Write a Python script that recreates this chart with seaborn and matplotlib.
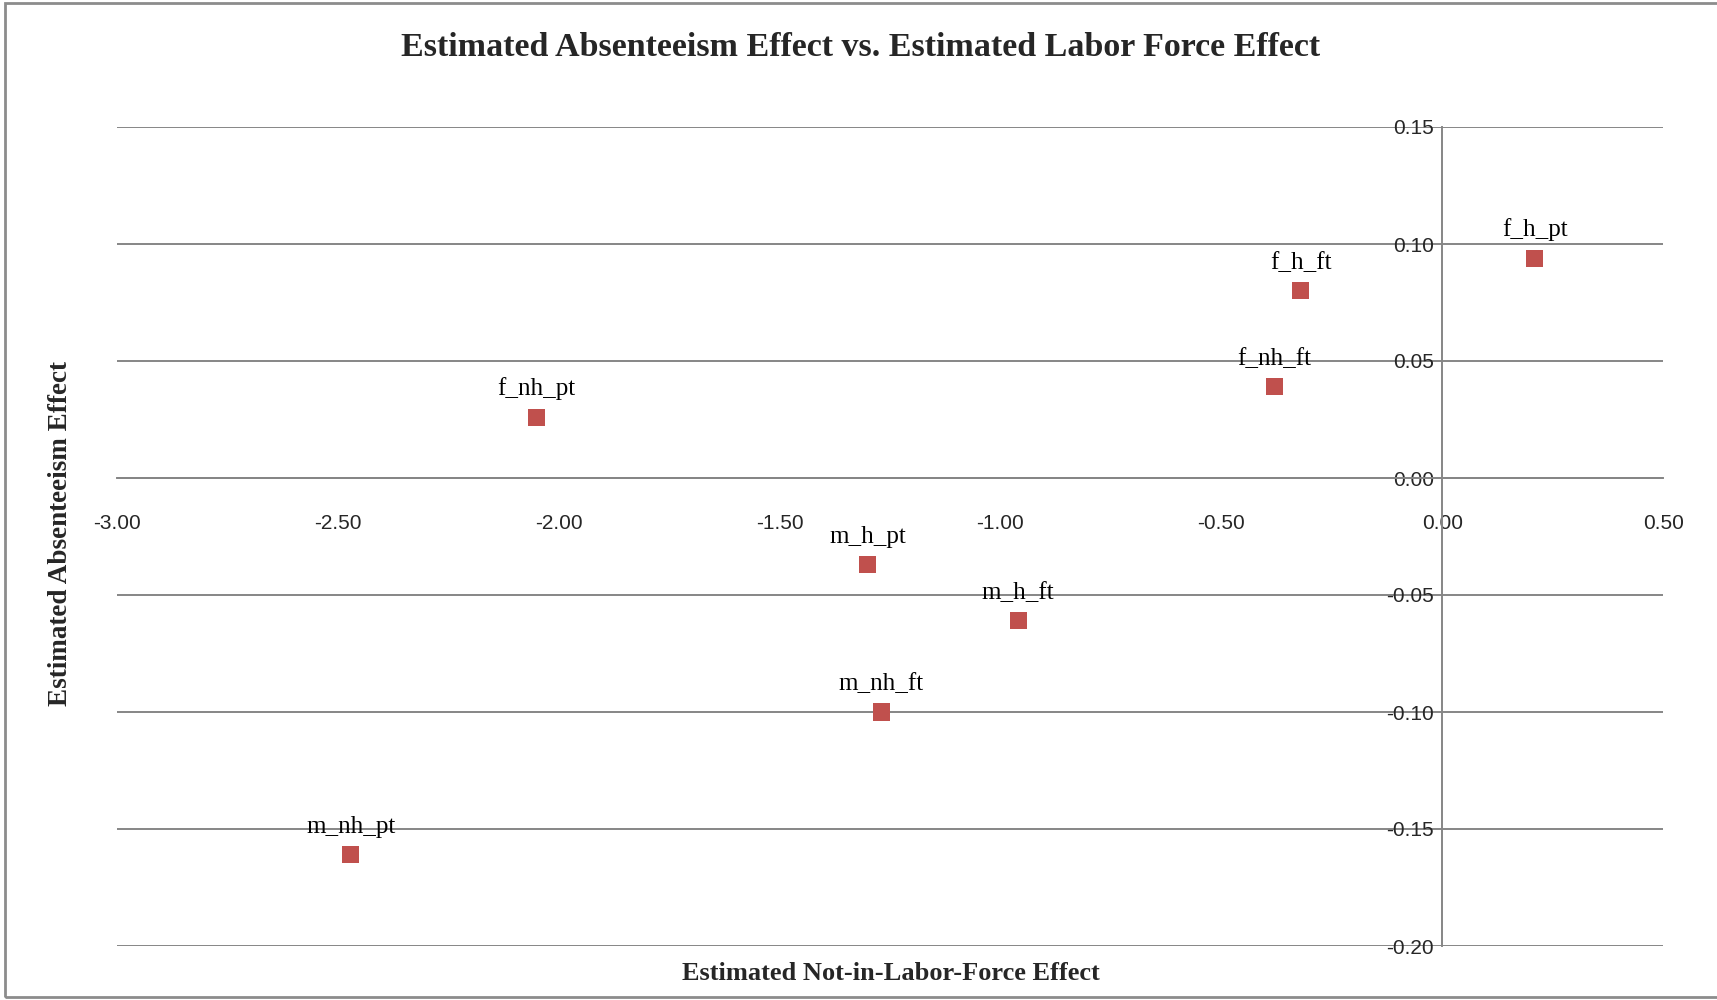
import matplotlib
matplotlib.use("Agg")
import matplotlib.pyplot as plt
import seaborn as sns
import pandas as pd
from matplotlib.patches import Rectangle

# Group labels and their estimated effects
groups = ["f_h_pt", "f_h_ft", "f_nh_ft", "f_nh_pt", "m_h_pt", "m_h_ft", "m_nh_ft", "m_nh_pt"]
labor_force_effect = [0.21, -0.32, -0.38, -2.05, -1.30, -0.96, -1.27, -2.47]
absenteeism_effect = [0.094, 0.080, 0.039, 0.026, -0.037, -0.061, -0.100, -0.161]

x_ticks = [-3.0, -2.5, -2.0, -1.5, -1.0, -0.5, 0.0, 0.5]
y_ticks = [-0.20, -0.15, -0.10, -0.05, 0.00, 0.05, 0.10, 0.15]

df = pd.DataFrame({"group": groups, "x": labor_force_effect, "y": absenteeism_effect})

sns.set_theme(style="white")
plt.rcParams["font.family"] = ["Liberation Serif", "DejaVu Serif"]

fig = plt.figure(figsize=(17.17, 10.0), dpi=100)
ax = fig.add_axes([0.068, 0.054, 0.9006, 0.819])

grid_c = "#868686"
for yv in y_ticks:
    ax.axhline(yv, color=grid_c, lw=1.4, zorder=0)

sns.scatterplot(data=df, x="x", y="y", marker="s", s=150, color="#C0504D",
                edgecolor="none", ax=ax, zorder=3, legend=False)

for g, xv, yv in zip(groups, labor_force_effect, absenteeism_effect):
    ax.annotate(g, (xv, yv), xytext=(0, 12), textcoords="offset points",
                ha="center", va="bottom", fontsize=18, color="black")

ax.set_xlim(-3.0, 0.5)
ax.set_ylim(-0.20, 0.15)

for side in ["top", "right"]:
    ax.spines[side].set_visible(False)
ax.spines["left"].set_position(("data", 0))
ax.spines["bottom"].set_position(("data", 0))
ax.spines["left"].set_color(grid_c)
ax.spines["bottom"].set_color(grid_c)
ax.spines["left"].set_linewidth(1.4)
ax.spines["bottom"].set_linewidth(1.4)

ax.set_xticks(x_ticks)
ax.set_yticks(y_ticks)
ax.set_xticklabels([f"{v:.2f}" for v in x_ticks])
ax.set_yticklabels([f"{v:.2f}" for v in y_ticks])
tick_font = ["Liberation Sans Narrow", "Liberation Sans", "DejaVu Sans"]
for lab in ax.get_xticklabels() + ax.get_yticklabels():
    lab.set_family(tick_font)
    lab.set_fontsize(15)
ax.tick_params(axis="x", direction="out", length=7, width=1.4, color=grid_c, pad=19)
ax.tick_params(axis="y", direction="out", length=5, width=1.4, color=grid_c, pad=1)
ax.set_xlabel("")
ax.set_ylabel("")

fig.text(0.501, 0.952, "Estimated Absenteeism Effect vs. Estimated Labor Force Effect",
         ha="center", va="center", fontsize=24.5, fontweight="bold")
fig.text(0.519, 0.027, "Estimated Not-in-Labor-Force Effect",
         ha="center", va="center", fontsize=19, fontweight="bold")
fig.text(0.035, 0.466, "Estimated Absenteeism Effect", rotation=90,
         ha="center", va="center", fontsize=19.5, fontweight="bold")

# Chart area border
fig.patches.append(Rectangle((0.003, 0.003), 1.2, 0.994, transform=fig.transFigure,
                             fill=False, edgecolor="#8c8c8c", lw=2, zorder=10))

fig.savefig("out.png", dpi=100)
